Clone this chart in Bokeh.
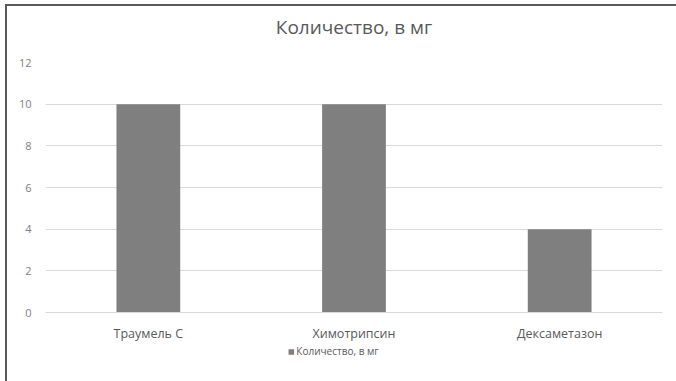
from bokeh.plotting import figure
from bokeh.layouts import column
from bokeh.models import Legend, LegendItem, Range1d, FixedTicker, Title
from bokeh.embed import file_html
from bokeh.resources import INLINE

categories = ["Траумель С", "Химотрипсин", "Дексаметазон"]
values = [10, 10, 4]
series_name = "Количество, в мг"
y_ticks = [0, 2, 4, 6, 8, 10, 12]

FONT = "Open Sans"
GRAY_TXT = "#595959"
BAR = "#7f7f7f"

p = figure(
    x_range=categories,
    y_range=Range1d(0, 12),
    width=669, height=338,
    output_backend="svg", toolbar_location=None,
    title=None,
    min_border_left=38, min_border_right=14,
    min_border_top=55, min_border_bottom=28,
)

r = p.vbar(x=categories, top=values, width=0.31, fill_color=BAR,
           line_color=None)

# spacer (closest to frame) then the real title above it
p.add_layout(Title(text=" ", text_font_size="5px"), "above")
p.add_layout(Title(text=series_name, align="center", text_font=FONT,
                   text_font_size="19px", text_font_style="normal",
                   text_color=GRAY_TXT), "above")

p.outline_line_color = None
p.background_fill_color = "white"
p.border_fill_color = "white"

p.xgrid.grid_line_color = None
p.ygrid.grid_line_color = "#d9d9d9"
p.ygrid.grid_line_width = 1

p.yaxis.ticker = FixedTicker(ticks=y_ticks)
p.yaxis.axis_line_color = None
p.yaxis.major_tick_line_color = None
p.yaxis.minor_tick_line_color = None
p.yaxis.major_label_text_font = FONT
p.yaxis.major_label_text_font_size = "11px"
p.yaxis.major_label_text_color = "#808080"
p.yaxis.major_label_standoff = 8

p.xaxis.axis_line_color = "#d9d9d9"
p.xaxis.major_tick_line_color = None
p.xaxis.minor_tick_line_color = None
p.xaxis.major_label_text_font = FONT
p.xaxis.major_label_text_font_size = "12.5px"
p.xaxis.major_label_text_color = GRAY_TXT
p.xaxis.major_label_standoff = 6

# legend strip below the chart (its renderer is hidden, only the key shows)
p2 = figure(
    x_range=categories, y_range=Range1d(0, 12),
    width=628, height=37,
    output_backend="svg", toolbar_location=None,
    min_border_left=0, min_border_right=0,
    min_border_top=0, min_border_bottom=0,
)
p2.axis.visible = False
p2.grid.visible = False
p2.outline_line_color = None
p2.border_fill_color = "white"
r2 = p2.vbar(x=categories, top=values, width=0.31, fill_color=BAR,
             line_color=None)
r2.visible = False

legend = Legend(items=[LegendItem(label=series_name, renderers=[r2])],
                orientation="horizontal", location="top_center",
                click_policy="none",
                label_text_font=FONT, label_text_font_size="10px",
                label_text_color=GRAY_TXT,
                glyph_width=7, glyph_height=7, label_standoff=2,
                label_height=12,
                border_line_color=None, background_fill_alpha=0,
                padding=0, margin=0)
p2.add_layout(legend)

layout = column(p, p2, spacing=0)
layout.styles = {
    "margin-left": "5px",
    "margin-top": "4px",
    "border-left": "2px solid #5a5a5a",
    "border-top": "2px solid #5a5a5a",
}

open("out.html", "w").write(file_html(layout, INLINE))
